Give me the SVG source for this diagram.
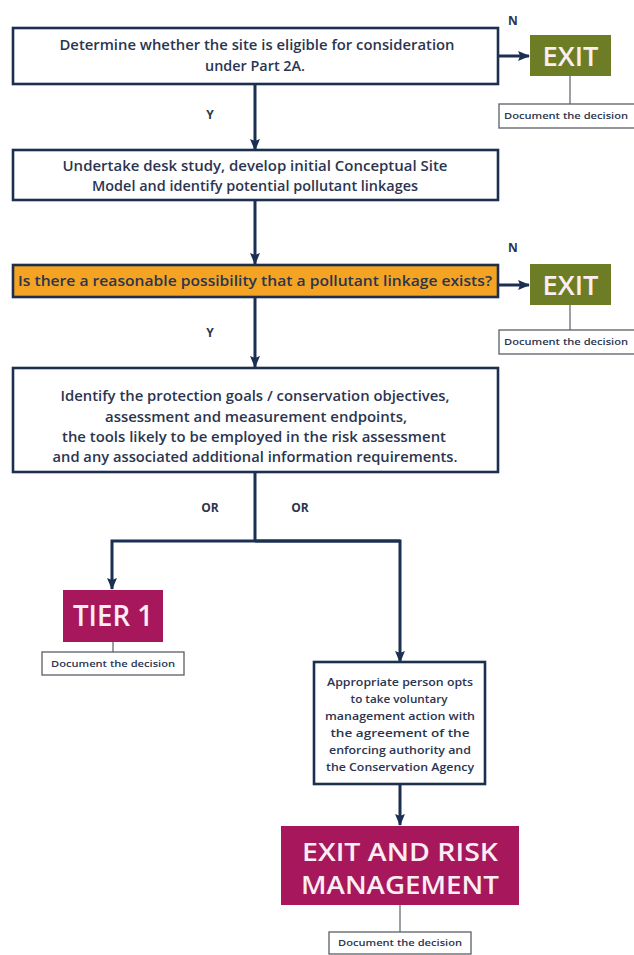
<svg xmlns="http://www.w3.org/2000/svg" width="634" height="955" viewBox="0 0 634 955">
  <defs>
    <marker id="arrow" viewBox="0 0 12 10" refX="11" refY="5" markerWidth="4.2" markerHeight="3.3" orient="auto" markerUnits="strokeWidth">
      <path d="M0,0 L12,5 L0,10 L2,5 z" fill="#1b2f52"/>
    </marker>
    <style>
      .box { fill: #ffffff; stroke: #1d2f4f; stroke-width: 2.6; }
      .ask { fill: #f4a322; stroke: #1d2f4f; stroke-width: 2.6; }
      .exit { fill: #6c7d25; }
      .tier { fill: #a6175c; }
      .doc { fill: #ffffff; stroke: #5a5f66; stroke-width: 1.3; }
      .txt { font-family: "Open Sans", "Noto Sans", sans-serif; font-weight: 600; fill: #2b3550; text-anchor: middle; }
      .body { font-size: 14px; }
      .small { font-size: 11.5px; }
      .doct { font-size: 9.5px; }
      .lab { font-family: "Open Sans", "Noto Sans", sans-serif; font-weight: 700; font-size: 12px; fill: #2b3550; text-anchor: middle; }
      .big { font-family: "Open Sans", "Noto Sans", sans-serif; font-weight: 600; fill: #fbeef3; text-anchor: middle; }
      .flow { fill: none; stroke: #1b2f52; stroke-width: 3; }
      .tie { fill: none; stroke: #5a5f66; stroke-width: 1.2; }
    </style>
  </defs>

  <rect width="634" height="955" fill="#ffffff"/>

  <!-- connectors -->
  <g id="connectors">
    <line class="flow" x1="498" y1="56" x2="529" y2="56" marker-end="url(#arrow)"/>
    <line class="flow" x1="255" y1="84" x2="255" y2="150" marker-end="url(#arrow)"/>
    <line class="flow" x1="255" y1="200" x2="255" y2="264" marker-end="url(#arrow)"/>
    <line class="flow" x1="498" y1="285" x2="529" y2="285" marker-end="url(#arrow)"/>
    <line class="flow" x1="255" y1="297" x2="255" y2="367" marker-end="url(#arrow)"/>
    <polyline class="flow" points="255,472 255,541"/>
    <polyline class="flow" points="400,541 112,541 112,589" marker-end="url(#arrow)"/>
    <polyline class="flow" points="255,541 400,541 400,662" marker-end="url(#arrow)"/>
    <line class="flow" x1="400" y1="784" x2="400" y2="825" marker-end="url(#arrow)"/>
    <line class="tie" x1="570" y1="76" x2="570" y2="104"/>
    <line class="tie" x1="570" y1="305" x2="570" y2="330"/>
    <line class="tie" x1="113" y1="642" x2="113" y2="652"/>
    <line class="tie" x1="400" y1="905" x2="400" y2="932"/>
    <text class="lab" x="513" y="25">N</text>
    <text class="lab" x="210" y="119">Y</text>
    <text class="lab" x="513" y="252">N</text>
    <text class="lab" x="210" y="337">Y</text>
    <text class="lab" x="210" y="512">OR</text>
    <text class="lab" x="300" y="512">OR</text>
  </g>

  <g id="eligible">
    <rect class="box" x="13" y="28" width="485" height="56"/>
    <text class="txt body" x="257" y="50" textLength="395" lengthAdjust="spacingAndGlyphs">Determine whether the site is eligible for consideration</text>
    <text class="txt body" x="255" y="71" textLength="100" lengthAdjust="spacingAndGlyphs">under Part 2A.</text>
  </g>

  <g id="exit1">
    <rect class="exit" x="530" y="35" width="81" height="41"/>
    <text class="big" x="570.5" y="66" font-size="27" textLength="56" lengthAdjust="spacingAndGlyphs">EXIT</text>
  </g>
  <g id="doc1">
    <rect class="doc" x="499" y="104" width="140" height="24"/>
    <text class="txt doct" x="566" y="119" textLength="124" lengthAdjust="spacingAndGlyphs">Document the decision</text>
  </g>

  <g id="desk-study">
    <rect class="box" x="13" y="150" width="485" height="50"/>
    <text class="txt body" x="255" y="171" textLength="385" lengthAdjust="spacingAndGlyphs">Undertake desk study, develop initial Conceptual Site</text>
    <text class="txt body" x="255" y="191" textLength="326" lengthAdjust="spacingAndGlyphs">Model and identify potential pollutant linkages</text>
  </g>

  <g id="linkage-question">
    <rect class="ask" x="13" y="265" width="485" height="32"/>
    <text class="txt body" x="255" y="286" textLength="474" lengthAdjust="spacingAndGlyphs">Is there a reasonable possibility that a pollutant linkage exists?</text>
  </g>

  <g id="exit2">
    <rect class="exit" x="530" y="264" width="81" height="41"/>
    <text class="big" x="570.5" y="295" font-size="27" textLength="56" lengthAdjust="spacingAndGlyphs">EXIT</text>
  </g>
  <g id="doc2">
    <rect class="doc" x="499" y="330" width="140" height="24"/>
    <text class="txt doct" x="566" y="345" textLength="124" lengthAdjust="spacingAndGlyphs">Document the decision</text>
  </g>

  <g id="objectives">
    <rect class="box" x="13" y="368" width="485" height="104"/>
    <text class="txt body" x="255" y="401" textLength="389" lengthAdjust="spacingAndGlyphs">Identify the protection goals / conservation objectives,</text>
    <text class="txt body" x="256" y="422" textLength="302" lengthAdjust="spacingAndGlyphs">assessment and measurement endpoints,</text>
    <text class="txt body" x="254" y="442" textLength="384" lengthAdjust="spacingAndGlyphs">the tools likely to be employed in the risk assessment</text>
    <text class="txt body" x="255" y="462" textLength="405" lengthAdjust="spacingAndGlyphs">and any associated additional information requirements.</text>
  </g>

  <g id="tier1">
    <rect class="tier" x="63" y="590" width="100" height="52"/>
    <text class="big" x="113" y="626" font-size="29" textLength="80" lengthAdjust="spacingAndGlyphs">TIER 1</text>
  </g>
  <g id="doc3">
    <rect class="doc" x="42" y="652" width="142" height="23"/>
    <text class="txt doct" x="113" y="667" textLength="124" lengthAdjust="spacingAndGlyphs">Document the decision</text>
  </g>

  <g id="voluntary-action">
    <rect class="box" x="314" y="662" width="171" height="122"/>
    <text class="txt small" x="400" y="686" textLength="146" lengthAdjust="spacingAndGlyphs">Appropriate person opts</text>
    <text class="txt small" x="399" y="703" textLength="97" lengthAdjust="spacingAndGlyphs">to take voluntary</text>
    <text class="txt small" x="400" y="720" textLength="150" lengthAdjust="spacingAndGlyphs">management action with</text>
    <text class="txt small" x="400" y="737" textLength="139" lengthAdjust="spacingAndGlyphs">the agreement of the</text>
    <text class="txt small" x="400" y="754" textLength="142" lengthAdjust="spacingAndGlyphs">enforcing authority and</text>
    <text class="txt small" x="400" y="771" textLength="148" lengthAdjust="spacingAndGlyphs">the Conservation Agency</text>
  </g>

  <g id="exit-risk-management">
    <rect class="tier" x="281" y="826" width="238" height="79"/>
    <text class="big" x="400" y="861" font-size="26" textLength="196" lengthAdjust="spacingAndGlyphs">EXIT AND RISK</text>
    <text class="big" x="400" y="894" font-size="26" textLength="198" lengthAdjust="spacingAndGlyphs">MANAGEMENT</text>
  </g>
  <g id="doc4">
    <rect class="doc" x="329" y="932" width="142" height="22"/>
    <text class="txt doct" x="400" y="946" textLength="124" lengthAdjust="spacingAndGlyphs">Document the decision</text>
  </g>
</svg>
